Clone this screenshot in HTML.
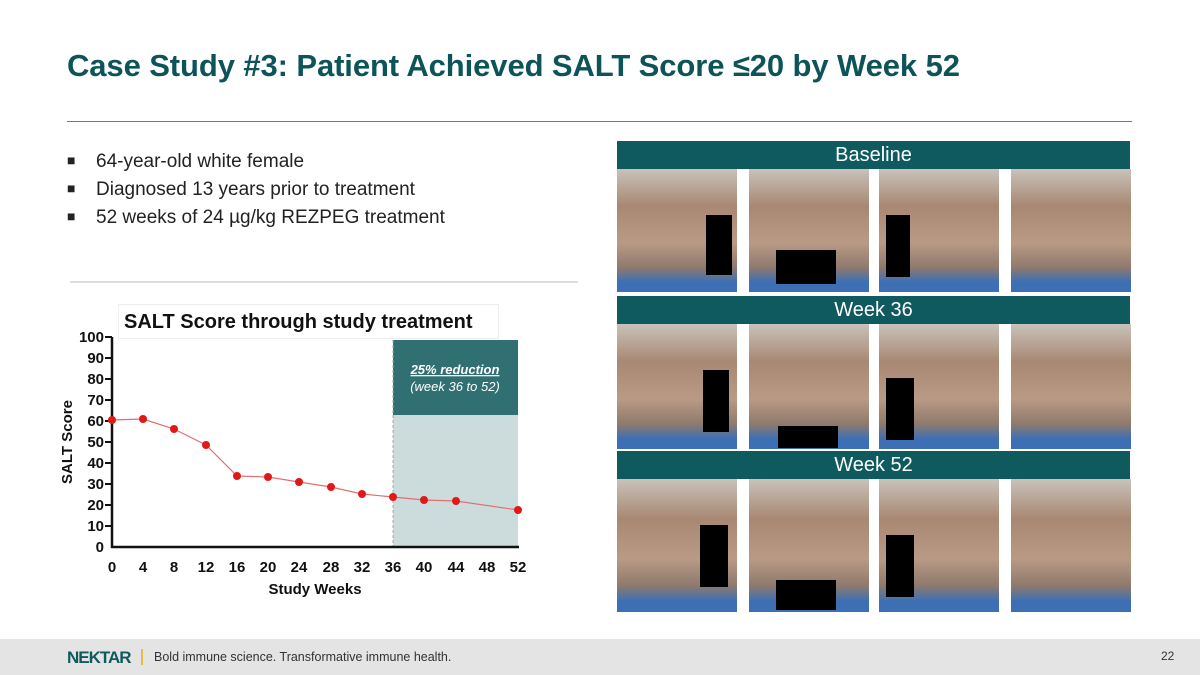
<!DOCTYPE html>
<html><head><style>
body{margin:0;width:1200px;height:675px;position:relative;background:#fff;font-family:"Liberation Sans",sans-serif;overflow:hidden}
.t{position:absolute;left:67px;top:48px;font-size:31px;font-weight:bold;color:#0d5459;letter-spacing:-0.1px}
.hr{position:absolute;left:67px;top:121px;width:1065px;height:1px;background:#777}
.b{position:absolute;left:67px;font-size:19px;color:#222}
.b span{display:inline-block;width:29px;font-size:14px;vertical-align:2px}
.hd{position:absolute;left:617px;width:513px;height:28px;background:#0f5a5e;color:#fff;font-size:20px;text-align:center;line-height:29px}
.ph{position:absolute;width:120px;background:linear-gradient(180deg,#c9c2bb 0%,#a88872 30%,#b99a85 60%,#8f7a6d 80%,#3d6fb5 92%,#3d6fb5 100%)}
.bx{position:absolute;background:#000}
.f{position:absolute;left:0;top:639px;width:1200px;height:36px;background:#e4e4e4}
</style></head><body>
<div class="t">Case Study #3: Patient Achieved SALT Score ≤20 by Week 52</div>
<div class="hr"></div>
<div class="b" style="top:151px"><span>■</span>64-year-old white female</div>
<div class="b" style="top:179px"><span>■</span>Diagnosed 13 years prior to treatment</div>
<div class="b" style="top:207px"><span>■</span>52 weeks of 24 µg/kg REZPEG treatment</div>
<div style="position:absolute;left:70px;top:281px;width:508px;height:2px;background:#ddd"></div>
<svg style="position:absolute;left:0;top:0" width="600" height="640">
<rect x="118.5" y="304.5" width="380" height="34" fill="none" stroke="#eee"/>
<rect x="393" y="415" width="125" height="132" fill="#ccdcdd"/>
<rect x="393" y="340" width="125" height="75" fill="#306f72"/>
<line x1="393" y1="340" x2="393" y2="547" stroke="#aaa" stroke-dasharray="3,2"/>
<text x="455" y="374" fill="#fff" font-size="13" font-weight="bold" font-style="italic" text-anchor="middle" text-decoration="underline">25% reduction</text>
<text x="455" y="391" fill="#fff" font-size="13" font-style="italic" text-anchor="middle">(week 36 to 52)</text>
<text x="124" y="328" font-size="20" font-weight="bold" fill="#111">SALT Score through study treatment</text>
<g stroke="#111" stroke-width="2.5">
<line x1="112" y1="337" x2="112" y2="548"/><line x1="111" y1="547" x2="519" y2="547"/>
</g>
<g font-size="15" font-weight="bold" fill="#111" text-anchor="end">
<text x="104" y="342">100</text><text x="104" y="363">90</text><text x="104" y="384">80</text><text x="104" y="405">70</text><text x="104" y="426">60</text><text x="104" y="447">50</text><text x="104" y="468">40</text><text x="104" y="489">30</text><text x="104" y="510">20</text><text x="104" y="531">10</text><text x="104" y="552">0</text>
</g>
<g stroke="#111" stroke-width="2">
<line x1="105" y1="337" x2="112" y2="337"/><line x1="105" y1="358" x2="112" y2="358"/><line x1="105" y1="379" x2="112" y2="379"/><line x1="105" y1="400" x2="112" y2="400"/><line x1="105" y1="421" x2="112" y2="421"/><line x1="105" y1="442" x2="112" y2="442"/><line x1="105" y1="463" x2="112" y2="463"/><line x1="105" y1="484" x2="112" y2="484"/><line x1="105" y1="505" x2="112" y2="505"/><line x1="105" y1="526" x2="112" y2="526"/>
</g>
<g font-size="15" font-weight="bold" fill="#111" text-anchor="middle">
<text x="112" y="572">0</text><text x="143" y="572">4</text><text x="174" y="572">8</text><text x="206" y="572">12</text><text x="237" y="572">16</text><text x="268" y="572">20</text><text x="299" y="572">24</text><text x="331" y="572">28</text><text x="362" y="572">32</text><text x="393" y="572">36</text><text x="424" y="572">40</text><text x="456" y="572">44</text><text x="487" y="572">48</text><text x="518" y="572">52</text>
<text x="315" y="594">Study Weeks</text>
<text transform="translate(72,442) rotate(-90)">SALT Score</text>
</g>
<polyline fill="none" stroke="#e07070" stroke-width="1.2" points="112,420 143,419 174,429 206,445 237,476 268,477 299,482 331,487 362,494 393,497 424,500 456,501 518,510"/>
<g fill="#e01818">
<circle cx="112" cy="420" r="4"/><circle cx="143" cy="419" r="4"/><circle cx="174" cy="429" r="4"/><circle cx="206" cy="445" r="4"/><circle cx="237" cy="476" r="4"/><circle cx="268" cy="477" r="4"/><circle cx="299" cy="482" r="4"/><circle cx="331" cy="487" r="4"/><circle cx="362" cy="494" r="4"/><circle cx="393" cy="497" r="4"/><circle cx="424" cy="500" r="4"/><circle cx="456" cy="501" r="4"/><circle cx="518" cy="510" r="4"/>
</g>
</svg>
<div class="hd" style="top:141px">Baseline</div>
<div class="hd" style="top:296px">Week 36</div>
<div class="hd" style="top:451px">Week 52</div>
<div class="ph" style="left:617px;top:169px;height:123px"></div><div class="ph" style="left:749px;top:169px;height:123px"></div><div class="ph" style="left:879px;top:169px;height:123px"></div><div class="ph" style="left:1011px;top:169px;height:123px"></div>
<div class="ph" style="left:617px;top:324px;height:125px"></div><div class="ph" style="left:749px;top:324px;height:125px"></div><div class="ph" style="left:879px;top:324px;height:125px"></div><div class="ph" style="left:1011px;top:324px;height:125px"></div>
<div class="ph" style="left:617px;top:479px;height:133px"></div><div class="ph" style="left:749px;top:479px;height:133px"></div><div class="ph" style="left:879px;top:479px;height:133px"></div><div class="ph" style="left:1011px;top:479px;height:133px"></div>
<div class="bx" style="left:706px;top:215px;width:26px;height:60px"></div><div class="bx" style="left:776px;top:250px;width:60px;height:34px"></div><div class="bx" style="left:886px;top:215px;width:24px;height:62px"></div>
<div class="bx" style="left:703px;top:370px;width:26px;height:62px"></div><div class="bx" style="left:778px;top:426px;width:60px;height:22px"></div><div class="bx" style="left:886px;top:378px;width:28px;height:62px"></div>
<div class="bx" style="left:700px;top:525px;width:28px;height:62px"></div><div class="bx" style="left:776px;top:580px;width:60px;height:30px"></div><div class="bx" style="left:886px;top:535px;width:28px;height:62px"></div>
<div class="f">
<span style="position:absolute;left:67px;top:9px;font-size:17px;font-weight:bold;color:#0f5a5e;letter-spacing:-1px">NEKTAR</span>
<span style="position:absolute;left:141px;top:10px;width:2px;height:16px;background:#e8b84a"></span>
<span style="position:absolute;left:154px;top:11px;font-size:12.5px;color:#333">Bold immune science. Transformative immune health.</span>
<span style="position:absolute;left:1161px;top:10px;font-size:12px;color:#333">22</span>
</div>
</body></html>
